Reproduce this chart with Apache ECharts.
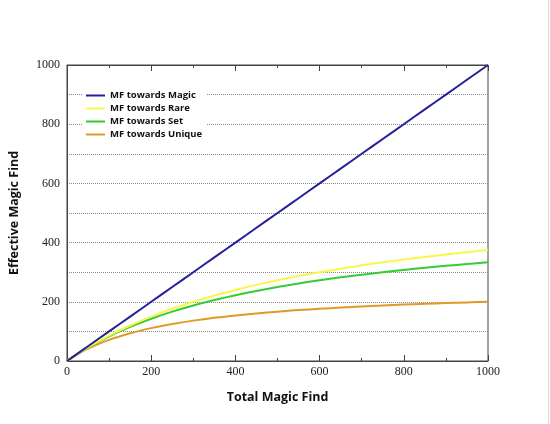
<!DOCTYPE html>
<html>
<head>
<meta charset="utf-8">
<script src="https://cdn.jsdelivr.net/npm/echarts@6/dist/echarts.min.js"></script>
<style>
html,body{margin:0;padding:0;background:#fff;}
#chart{width:550px;height:424px;}
</style>
</head>
<body>
<div id="chart"></div>
<script>
var totalMF = [0, 25, 50, 100, 150, 200, 250, 300, 350, 400, 450, 500, 550, 600, 650, 700, 750, 800, 850, 900, 950, 1000];
var mfMagic = [0, 25, 50, 100, 150, 200, 250, 300, 350, 400, 450, 500, 550, 600, 650, 700, 750, 800, 850, 900, 950, 1000];
var mfRare = [0, 24, 46.2, 85.7, 120, 150, 176.5, 200, 221.1, 240, 257.1, 272.7, 287, 300, 312, 323.1, 333.3, 342.9, 351.7, 360, 367.7, 375];
var mfSet = [0, 23.8, 45.5, 83.3, 115.4, 142.9, 166.7, 187.5, 205.9, 222.2, 236.8, 250, 261.9, 272.7, 282.6, 291.7, 300, 307.7, 314.8, 321.4, 327.6, 333.3];
var mfUnique = [0, 22.7, 41.7, 71.4, 93.8, 111.1, 125, 136.4, 145.8, 153.8, 160.7, 166.7, 171.9, 176.5, 180.6, 184.2, 187.5, 190.5, 193.2, 195.7, 197.9, 200];
var seriesNames = ['MF towards Magic', 'MF towards Rare', 'MF towards Set', 'MF towards Unique'];
var seriesColors = ['#23209a', '#f7f74a', '#33cc33', '#e09a2a'];
var seriesValues = [mfMagic, mfRare, mfSet, mfUnique];

function pairs(vals) {
  return totalMF.map(function (x, i) { return [x, vals[i]]; });
}

var chart = echarts.init(document.getElementById('chart'));
var serif = '"Liberation Serif", "DejaVu Serif", serif';
var sans = '"Open Sans", Lato, sans-serif';
var plain = function (v) { return String(v); };

chart.setOption({
  animation: false,
  backgroundColor: '#fff',
  grid: { left: 64, right: 62, top: 65, bottom: 63, show: true, borderColor: '#444', borderWidth: 1, containLabel: false },
  legend: {
    orient: 'vertical',
    left: 82,
    top: 88,
    data: seriesNames,
    icon: 'rect',
    itemWidth: 19,
    itemHeight: 2,
    itemGap: 2,
    padding: [2, 4, 2, 4],
    backgroundColor: '#fff',
    textStyle: { fontFamily: sans, fontWeight: 'bold', fontSize: 9.5, lineHeight: 11, color: '#111' }
  },
  xAxis: [{
    type: 'value', min: 0, max: 1000, interval: 200,
    name: 'Total Magic Find', nameLocation: 'middle', nameGap: 30,
    nameTextStyle: { fontFamily: sans, fontWeight: 'bold', fontSize: 12.5, color: '#111' },
    axisLine: { lineStyle: { color: '#444' } },
    axisTick: { inside: true, length: 6, lineStyle: { color: '#444' } },
    minorTick: { show: true, splitNumber: 2, length: 3, lineStyle: { color: '#444' } },
    splitLine: { show: false },
    axisLabel: { fontFamily: serif, fontSize: 12, color: '#222', margin: 5, formatter: plain }
  }, {
    type: 'value', min: 0, max: 1000, interval: 200, position: 'top',
    axisLine: { show: true, lineStyle: { color: '#444' } },
    axisTick: { inside: true, length: 6, lineStyle: { color: '#444' } },
    minorTick: { show: true, splitNumber: 2, length: 3, lineStyle: { color: '#444' } },
    splitLine: { show: false },
    axisLabel: { show: false }
  }],
  yAxis: {
    type: 'value', min: 0, max: 1000, interval: 200,
    name: 'Effective Magic Find', nameLocation: 'middle', nameGap: 46,
    nameTextStyle: { fontFamily: sans, fontWeight: 'bold', fontSize: 12.5, color: '#111' },
    axisLine: { show: true, lineStyle: { color: '#444' } },
    axisTick: { show: false },
    minorTick: { show: false, splitNumber: 2 },
    splitLine: { show: true, lineStyle: { type: 'dotted', color: '#888', width: 1 } },
    minorSplitLine: { show: true, lineStyle: { type: 'dotted', color: '#888', width: 1 } },
    axisLabel: { fontFamily: serif, fontSize: 12, color: '#222', margin: 7, formatter: plain }
  },
  graphic: [{
    type: 'line', shape: { x1: 548.5, y1: 0, x2: 548.5, y2: 424 },
    style: { stroke: '#d8d8d8', lineWidth: 1 }, silent: true
  }],
  series: seriesNames.map(function (n, i) {
    return {
      name: n, type: 'line', smooth: 0.2, symbol: 'none',
      data: pairs(seriesValues[i]),
      lineStyle: { color: seriesColors[i], width: 2 },
      itemStyle: { color: seriesColors[i] },
      z: 10 - i
    };
  })
});
</script>
</body>
</html>
